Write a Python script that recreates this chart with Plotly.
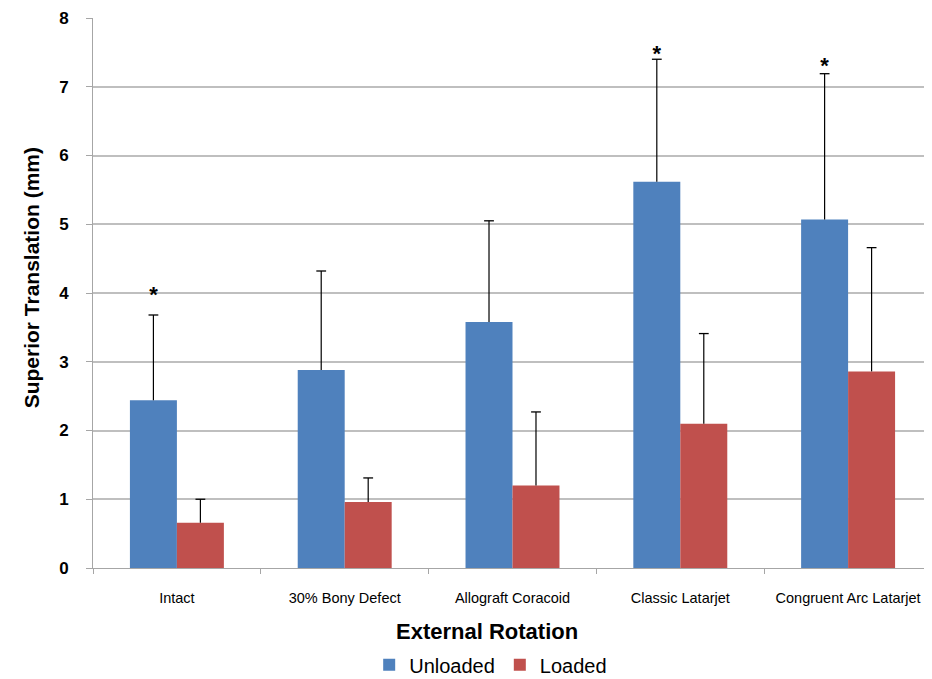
import plotly.graph_objects as go

categories = ["Intact", "30% Bony Defect", "Allograft Coracoid", "Classic Latarjet", "Congruent Arc Latarjet"]
unloaded = [2.44, 2.88, 3.58, 5.62, 5.07]
unloaded_err = [1.24, 1.44, 1.47, 1.78, 2.12]
loaded = [0.66, 0.96, 1.20, 2.10, 2.86]
loaded_err = [0.34, 0.35, 1.07, 1.31, 1.80]
asterisk_y = [3.95, None, None, 7.46, 7.28]
y_ticks = [0, 1, 2, 3, 4, 5, 6, 7, 8]

BLUE = "#4f81bd"
RED = "#c0504d"
FONT = "Liberation Sans, Arial"

fig = go.Figure()
for name, vals, errs, col, grp in [("Unloaded", unloaded, unloaded_err, BLUE, "u"),
                                    ("Loaded", loaded, loaded_err, RED, "l")]:
    fig.add_trace(go.Bar(
        name=name, x=categories, y=vals, marker_color=col, marker_line_width=0,
        offsetgroup=grp,
        error_y=dict(type="data", array=errs, symmetric=False, arrayminus=[0]*5,
                     color="black", thickness=1.2, width=0),
    ))

# error bar caps (hats), aligned with the bar groups
for vals, errs, grp in [(unloaded, unloaded_err, "u"), (loaded, loaded_err, "l")]:
    fig.add_trace(go.Scatter(
        x=categories, y=[v + e for v, e in zip(vals, errs)], mode="markers",
        offsetgroup=grp, showlegend=False, hoverinfo="skip",
        marker=dict(symbol="line-ew-open", size=7, color="black", line=dict(width=1.3, color="black")),
    ))

# significance asterisks
fig.add_trace(go.Scatter(
    x=categories, y=asterisk_y, mode="text", text=["<b>*</b>" if a is not None else "" for a in asterisk_y],
    textposition="middle center", offsetgroup="u", showlegend=False, hoverinfo="skip",
    textfont=dict(size=22, color="black", family="Liberation Sans"),
))
fig.add_trace(go.Scatter(
    x=categories, y=[None]*5, mode="markers", offsetgroup="l", showlegend=False, hoverinfo="skip",
))

# x-axis title
fig.add_annotation(x=0.47, xref="paper", y=-0.116, yref="paper", yanchor="middle",
                   text="<b>External Rotation</b>", showarrow=False,
                   font=dict(size=22, color="black", family=FONT))
# y-axis title
fig.add_annotation(x=-0.073, xref="paper", xanchor="center", y=0.528, yref="paper", yanchor="middle",
                   text="<b>Superior Translation (mm)</b>", textangle=-90, showarrow=False,
                   font=dict(size=21, color="black", family=FONT))

fig.update_layout(
    width=924, height=671,
    margin=dict(l=85, r=0, t=10, b=111, autoexpand=False),
    paper_bgcolor="white", plot_bgcolor="white",
    barmode="group", bargap=0.44, bargroupgap=0,
    scattermode="group", scattergap=0.44,
    font=dict(family=FONT, color="black"),
    legend=dict(orientation="h", x=0.474, xanchor="center", y=-0.176, yanchor="middle",
                font=dict(size=20, family=FONT),
                itemwidth=30, traceorder="normal"),
    showlegend=True,
)
fig.update_xaxes(
    tickson="boundaries", ticks="outside", ticklen=5, tickcolor="#a6a6a6",
    showline=True, linecolor="#a6a6a6", linewidth=1,
    tickfont=dict(size=14.5, family=FONT), ticklabelstandoff=17,
    automargin=False,
)
fig.update_yaxes(
    range=[0, 8], tickvals=y_ticks, ticktext=[f"<b>{v}</b>" for v in y_ticks],
    showgrid=True, gridcolor="#bfbfbf", gridwidth=1.5,
    showline=True, linecolor="#a6a6a6", linewidth=1,
    ticks="outside", ticklen=6, tickcolor="#a6a6a6",
    tickfont=dict(size=17, family="Liberation Sans"), ticklabelstandoff=14,
    ticklabeloverflow="allow",
    zeroline=False, automargin=False,
)

fig.write_html("out.html")
